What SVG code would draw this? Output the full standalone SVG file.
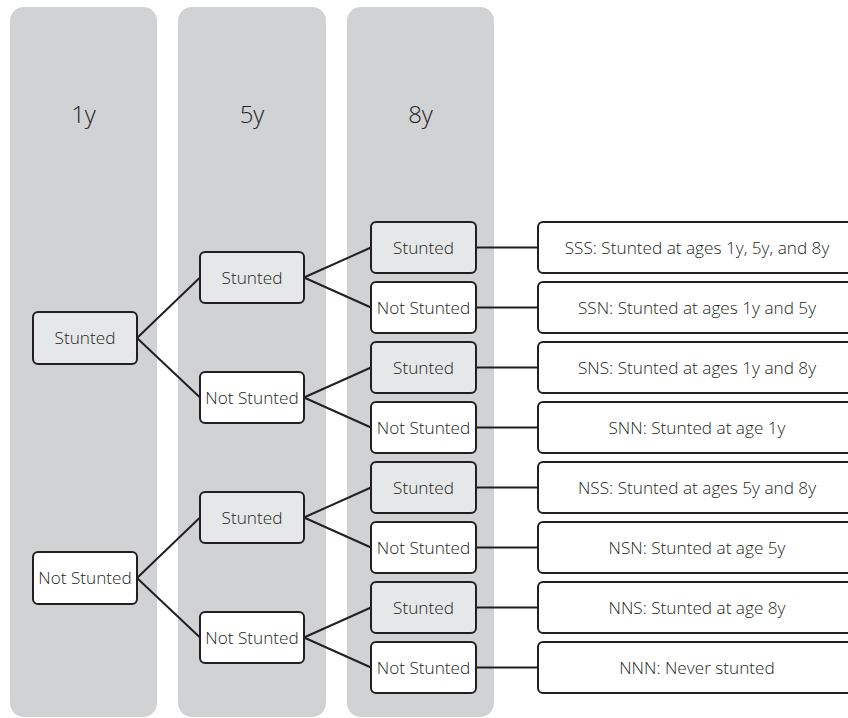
<svg xmlns="http://www.w3.org/2000/svg" width="848" height="718" viewBox="0 0 848 718">
<style>
.col{fill:#d1d2d4;}
.hdr{font-family:"Open Sans","Liberation Sans",sans-serif;font-weight:300;font-size:24px;fill:#231f20;text-anchor:middle;}
.s{fill:#e6e7e8;stroke:#231f20;stroke-width:2;}
.n{fill:#ffffff;stroke:#231f20;stroke-width:2;}
.t{font-family:"Open Sans","Liberation Sans",sans-serif;font-weight:300;font-size:17.2px;fill:#231f20;text-anchor:middle;}
.c{stroke:#231f20;stroke-width:2;fill:none;}
</style>
<g id="columns">
<rect class="col" x="10" y="7" width="147" height="710" rx="14"/>
<rect class="col" x="178" y="7" width="148" height="710" rx="14"/>
<rect class="col" x="347" y="7" width="147" height="710" rx="14"/>
<text class="hdr" x="83.5" y="123">1y</text>
<text class="hdr" x="252" y="123">5y</text>
<text class="hdr" x="420.5" y="123">8y</text>
</g>
<g id="connectors">
<line class="c" x1="137" y1="338" x2="200" y2="277.5"/>
<line class="c" x1="137" y1="338" x2="200" y2="397.5"/>
<line class="c" x1="137" y1="578" x2="200" y2="517.5"/>
<line class="c" x1="137" y1="578" x2="200" y2="637.5"/>
<line class="c" x1="304" y1="277.5" x2="371" y2="247.5"/>
<line class="c" x1="304" y1="277.5" x2="371" y2="307.5"/>
<line class="c" x1="304" y1="397.5" x2="371" y2="367.5"/>
<line class="c" x1="304" y1="397.5" x2="371" y2="427.5"/>
<line class="c" x1="304" y1="517.5" x2="371" y2="487.5"/>
<line class="c" x1="304" y1="517.5" x2="371" y2="547.5"/>
<line class="c" x1="304" y1="637.5" x2="371" y2="607.5"/>
<line class="c" x1="304" y1="637.5" x2="371" y2="667.5"/>
<line class="c" x1="476" y1="247.5" x2="538" y2="247.5"/>
<line class="c" x1="476" y1="307.5" x2="538" y2="307.5"/>
<line class="c" x1="476" y1="367.5" x2="538" y2="367.5"/>
<line class="c" x1="476" y1="427.5" x2="538" y2="427.5"/>
<line class="c" x1="476" y1="487.5" x2="538" y2="487.5"/>
<line class="c" x1="476" y1="547.5" x2="538" y2="547.5"/>
<line class="c" x1="476" y1="607.5" x2="538" y2="607.5"/>
<line class="c" x1="476" y1="667.5" x2="538" y2="667.5"/>
</g>
<g id="n1-s"><rect class="s" x="33" y="312" width="104" height="52" rx="5"/><text class="t" x="85" y="344">Stunted</text></g>
<g id="n1-n"><rect class="n" x="33" y="552" width="104" height="52" rx="5"/><text class="t" x="85" y="584">Not Stunted</text></g>
<g id="n2-ss"><rect class="s" x="200" y="252" width="104" height="51" rx="5"/><text class="t" x="252" y="283.5">Stunted</text></g>
<g id="n2-sn"><rect class="n" x="200" y="372" width="104" height="51" rx="5"/><text class="t" x="252" y="403.5">Not Stunted</text></g>
<g id="n2-ns"><rect class="s" x="200" y="492" width="104" height="51" rx="5"/><text class="t" x="252" y="523.5">Stunted</text></g>
<g id="n2-nn"><rect class="n" x="200" y="612" width="104" height="51" rx="5"/><text class="t" x="252" y="643.5">Not Stunted</text></g>
<g id="n3-sss"><rect class="s" x="371" y="222" width="105" height="51" rx="5"/><text class="t" x="423.5" y="253.5">Stunted</text></g>
<g id="n3-ssn"><rect class="n" x="371" y="282" width="105" height="51" rx="5"/><text class="t" x="423.5" y="313.5">Not Stunted</text></g>
<g id="n3-sns"><rect class="s" x="371" y="342" width="105" height="51" rx="5"/><text class="t" x="423.5" y="373.5">Stunted</text></g>
<g id="n3-snn"><rect class="n" x="371" y="402" width="105" height="51" rx="5"/><text class="t" x="423.5" y="433.5">Not Stunted</text></g>
<g id="n3-nss"><rect class="s" x="371" y="462" width="105" height="51" rx="5"/><text class="t" x="423.5" y="493.5">Stunted</text></g>
<g id="n3-nsn"><rect class="n" x="371" y="522" width="105" height="51" rx="5"/><text class="t" x="423.5" y="553.5">Not Stunted</text></g>
<g id="n3-nns"><rect class="s" x="371" y="582" width="105" height="51" rx="5"/><text class="t" x="423.5" y="613.5">Stunted</text></g>
<g id="n3-nnn"><rect class="n" x="371" y="642" width="105" height="51" rx="5"/><text class="t" x="423.5" y="673.5">Not Stunted</text></g>
<g id="r-sss"><rect class="n" x="538" y="222" width="318" height="51" rx="5"/><text class="t" x="697" y="253.5">SSS: Stunted at ages 1y, 5y, and 8y</text></g>
<g id="r-ssn"><rect class="n" x="538" y="282" width="318" height="51" rx="5"/><text class="t" x="697" y="313.5">SSN: Stunted at ages 1y and 5y</text></g>
<g id="r-sns"><rect class="n" x="538" y="342" width="318" height="51" rx="5"/><text class="t" x="697" y="373.5">SNS: Stunted at ages 1y and 8y</text></g>
<g id="r-snn"><rect class="n" x="538" y="402" width="318" height="51" rx="5"/><text class="t" x="697" y="433.5">SNN: Stunted at age 1y</text></g>
<g id="r-nss"><rect class="n" x="538" y="462" width="318" height="51" rx="5"/><text class="t" x="697" y="493.5">NSS: Stunted at ages 5y and 8y</text></g>
<g id="r-nsn"><rect class="n" x="538" y="522" width="318" height="51" rx="5"/><text class="t" x="697" y="553.5">NSN: Stunted at age 5y</text></g>
<g id="r-nns"><rect class="n" x="538" y="582" width="318" height="51" rx="5"/><text class="t" x="697" y="613.5">NNS: Stunted at age 8y</text></g>
<g id="r-nnn"><rect class="n" x="538" y="642" width="318" height="51" rx="5"/><text class="t" x="697" y="673.5">NNN: Never stunted</text></g>
</svg>
